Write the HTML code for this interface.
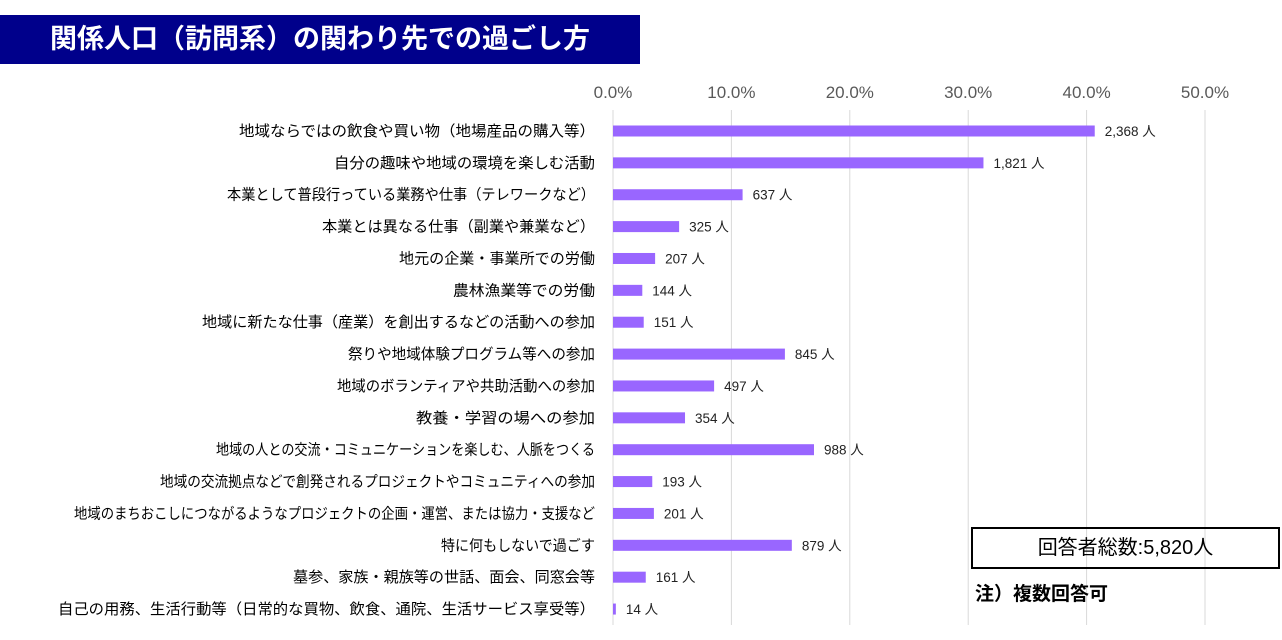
<!DOCTYPE html>
<html><head><meta charset="utf-8"><style>
body{margin:0;width:1282px;height:640px;background:#fff;overflow:hidden;font-family:"Liberation Sans","Noto Sans CJK JP",sans-serif}
#title{position:absolute;left:0;top:15px;width:640px;height:49px;background:#00008b;color:#fff;font-weight:bold;font-size:27px;line-height:49px;padding-left:50px;box-sizing:border-box;letter-spacing:0px}
#total{position:absolute;left:971px;top:527px;width:305px;height:38px;border:2px solid #000;font-size:20px;line-height:38px;text-align:center}
#note{position:absolute;left:975px;top:579px;font-size:19px;font-weight:bold}
</style></head><body>
<div id="title">関係人口（訪問系）の関わり先での過ごし方</div>
<svg id="chart" width="1282" height="640" style="position:absolute;left:0;top:0"></svg>
<div id="total">回答者総数:5,820人</div>
<div id="note">注）複数回答可</div>
<script>
const categories=["地域ならではの飲食や買い物（地場産品の購入等）","自分の趣味や地域の環境を楽しむ活動","本業として普段行っている業務や仕事（テレワークなど）","本業とは異なる仕事（副業や兼業など）","地元の企業・事業所での労働","農林漁業等での労働","地域に新たな仕事（産業）を創出するなどの活動への参加","祭りや地域体験プログラム等への参加","地域のボランティアや共助活動への参加","教養・学習の場への参加","地域の人との交流・コミュニケーションを楽しむ、人脈をつくる","地域の交流拠点などで創発されるプロジェクトやコミュニティへの参加","地域のまちおこしにつながるようなプロジェクトの企画・運営、または協力・支援など","特に何もしないで過ごす","墓参、家族・親族等の世話、面会、同窓会等","自己の用務、生活行動等（日常的な買物、飲食、通院、生活サービス享受等）"];
const counts=[2368,1821,637,325,207,144,151,845,497,354,988,193,201,879,161,14];
const total=5820;
const ticks=[0,10,20,30,40,50];
// rendered label widths (layout only)
const labelWidths=[356,261,368,273,196,142,393,247,258,179,379,435,521,154,302,537];
const NS="http://www.w3.org/2000/svg";
const svg=document.getElementById('chart');
const x0=613,pxPer=11.84;
const xs=p=>x0+p*pxPer;
const ys=i=>131+i*31.87;
function mk(t,a){const e=document.createElementNS(NS,t);for(const k in a)e.setAttribute(k,a[k]);svg.appendChild(e);return e;}
ticks.forEach(t=>{
 const l=mk('line',{x1:xs(t),x2:xs(t),y1:110,y2:625,stroke:'#d9d9d9','stroke-width':1});
 
 
 const tx=mk('text',{x:xs(t),y:98,'text-anchor':'middle','font-size':17,fill:'#595959'});
 tx.textContent=t.toFixed(1)+'%';
 
 
});
categories.forEach((c,i)=>{
 const y=ys(i),p=counts[i]/total*100,w=p*pxPer;
 const lw=labelWidths[i];
 const lab=mk('text',{x:595-lw,y:y+5,'font-size':15,fill:'#000',textLength:lw,lengthAdjust:'spacingAndGlyphs'});
 lab.textContent=c;
 
 
 const r=mk('rect',{x:x0,y:y-5.5,width:Math.max(w,1.5),height:11,fill:'#9966ff'});
 
 
 const v=mk('text',{x:x0+w+10,y:y+5,'font-size':13.5,fill:'#222'});
 v.textContent=counts[i].toLocaleString('en-US')+' 人';
 
 
});
</script>
</body></html>
